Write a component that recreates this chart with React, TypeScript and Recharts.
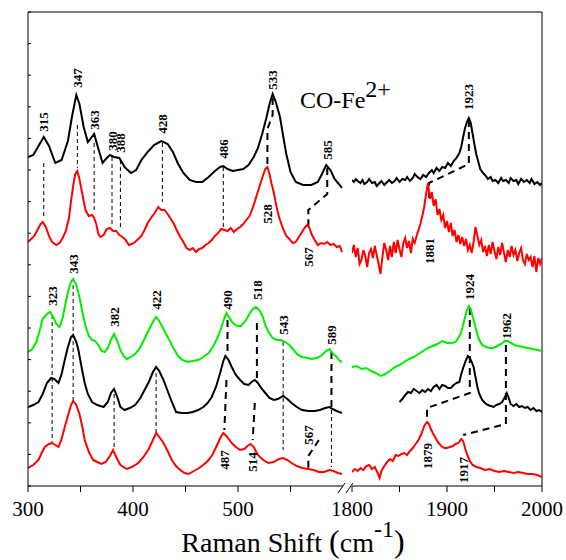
import React from 'react';
import { LineChart, Line, XAxis, YAxis, ReferenceDot } from 'recharts';

type Pt = [number, number];

// Raman spectra, [shift (cm-1), intensity (a.u., stacked offsets included)]
// 300–600 cm-1 window, top to bottom
const lowBlackTop: Pt[] = [
  [300, 329], [305, 331], [310, 340], [315, 349], [320, 340], [326, 323], [332, 326], [338, 345],
  [342, 370], [346, 391], [349, 382], [353, 359], [357, 344], [360, 348], [363, 352], [366, 341],
  [371, 323], [375, 328], [378, 331], [382, 329], [387, 328], [392, 319], [398, 313], [403, 316],
  [408, 326], [414, 334], [420, 341], [427, 345], [433, 342], [438, 334], [443, 322], [448, 313],
  [454, 306], [460, 304], [466, 304], [472, 309], [478, 315], [483, 319], [486, 320], [490, 317],
  [495, 315], [500, 316], [505, 317], [510, 321], [515, 329], [519, 338], [523, 352], [527, 368],
  [530, 382], [533, 392], [536, 384], [540, 369], [543, 350], [546, 332], [550, 314], [555, 304],
  [562, 301], [570, 301], [576, 304], [580, 312], [584, 321], [588, 316], [592, 307], [596, 302],
  [599, 298],
];

const lowRedTop: Pt[] = [
  [300, 244], [303, 247], [306, 250], [309, 256], [312, 262], [314, 264], [317, 259], [320, 250],
  [323, 244], [327, 241], [330, 243], [333, 248], [336, 255], [339, 268], [341, 285], [343, 300],
  [345, 312], [347, 315], [349, 307], [351, 296], [353, 285], [355, 275], [358, 270], [361, 271],
  [363, 268], [365, 262], [367, 252], [369, 249], [372, 251], [375, 257], [378, 258], [381, 255],
  [384, 255], [387, 251], [390, 249], [393, 246], [396, 241], [399, 242], [402, 244], [405, 247],
  [408, 250], [411, 256], [414, 263], [417, 268], [420, 272], [424, 279], [427, 276], [430, 276],
  [433, 272], [436, 267], [439, 262], [442, 255], [445, 249], [448, 244], [451, 238], [454, 236],
  [457, 238], [460, 234], [463, 237], [466, 238], [469, 241], [472, 243], [475, 246], [478, 250],
  [481, 253], [484, 257], [487, 256], [490, 255], [493, 258], [496, 254], [499, 257], [502, 259],
  [505, 262], [508, 266], [511, 270], [514, 278], [517, 288], [520, 298], [523, 308], [526, 317],
  [528, 319], [530, 312], [532, 302], [534, 294], [536, 283], [538, 273], [540, 266], [543, 257],
  [546, 250], [549, 247], [552, 243], [555, 244], [558, 249], [561, 254], [564, 259], [566, 261],
  [568, 258], [570, 252], [573, 246], [576, 241], [579, 243], [582, 242], [585, 244], [588, 241],
  [591, 242], [594, 239], [597, 240], [599, 234],
];

const lowGreen: Pt[] = [
  [300, 134], [304, 137], [308, 144], [311, 155], [314, 167], [318, 172], [321, 174], [324, 169],
  [327, 162], [330, 159], [333, 168], [336, 184], [339, 198], [341, 204], [343, 207], [346, 201],
  [349, 189], [352, 173], [355, 159], [358, 150], [361, 146], [364, 145], [367, 141], [370, 135],
  [373, 134], [376, 138], [379, 146], [382, 152], [385, 145], [388, 136], [391, 130], [394, 127],
  [398, 129], [402, 132], [406, 137], [410, 145], [414, 154], [417, 160], [420, 166], [422, 169],
  [425, 165], [428, 159], [431, 153], [435, 145], [439, 137], [443, 130], [447, 126], [452, 124],
  [457, 125], [462, 126], [467, 129], [472, 133], [476, 139], [480, 147], [484, 158], [487, 168],
  [489, 173], [492, 168], [495, 163], [499, 160], [503, 160], [507, 165], [511, 172], [514, 177],
  [517, 179], [520, 176], [523, 171], [526, 161], [529, 154], [533, 148], [537, 146], [541, 146],
  [545, 144], [549, 141], [553, 136], [557, 131], [561, 129], [566, 128], [570, 127], [575, 128],
  [580, 131], [584, 135], [587, 137], [590, 133], [594, 129], [597, 125], [599, 124],
];

const lowBlackLow: Pt[] = [
  [300, 79], [305, 81], [310, 84], [314, 92], [318, 103], [322, 108], [325, 107], [329, 103],
  [332, 112], [335, 126], [338, 139], [341, 149], [343, 151], [346, 144], [348, 136], [351, 119],
  [354, 103], [357, 92], [361, 84], [366, 81], [372, 79], [376, 84], [379, 93], [382, 97],
  [385, 89], [388, 79], [392, 76], [397, 78], [402, 81], [407, 88], [411, 96], [415, 104],
  [419, 114], [422, 119], [425, 115], [429, 106], [433, 95], [437, 84], [441, 74], [446, 73],
  [452, 73], [457, 74], [462, 76], [467, 79], [471, 83], [475, 89], [479, 99], [483, 113],
  [486, 125], [488, 130], [491, 126], [494, 119], [498, 111], [502, 106], [506, 102], [510, 101],
  [513, 104], [516, 106], [519, 103], [522, 98], [526, 93], [530, 88], [534, 86], [538, 87],
  [543, 90], [547, 87], [551, 83], [556, 79], [561, 76], [567, 75], [573, 75], [578, 76],
  [583, 78], [587, 79], [590, 77], [594, 75], [599, 73],
];

const lowRedLow: Pt[] = [
  [300, 18], [305, 21], [310, 26], [313, 33], [316, 39], [320, 42], [323, 43], [326, 41],
  [329, 39], [332, 47], [335, 59], [338, 70], [341, 81], [343, 85], [346, 81], [349, 72],
  [352, 58], [354, 46], [358, 34], [362, 26], [366, 24], [370, 22], [374, 24], [378, 30],
  [381, 36], [384, 29], [388, 21], [391, 19], [394, 17], [399, 19], [405, 23], [410, 29],
  [415, 37], [419, 46], [422, 53], [425, 49], [429, 43], [433, 35], [437, 26], [441, 20],
  [445, 16], [449, 13], [453, 12], [458, 15], [463, 18], [468, 22], [472, 26], [476, 32],
  [481, 43], [484, 50], [486, 53], [489, 50], [494, 43], [498, 39], [502, 36], [506, 37],
  [509, 40], [512, 42], [515, 39], [519, 31], [524, 26], [529, 23], [534, 24], [539, 27],
  [543, 28], [547, 26], [551, 23], [556, 20], [561, 18], [567, 17], [572, 16], [577, 14],
  [582, 14], [587, 16], [591, 15], [595, 13], [599, 12],
];

// 1800–2000 cm-1 window (CO stretching region), top to bottom
const highBlackTop: Pt[] = [
  [1800, 306], [1802, 304], [1804, 307], [1806, 305], [1809, 303], [1811, 306], [1813, 302],
  [1816, 304], [1818, 307], [1821, 303], [1824, 304], [1826, 300], [1829, 303], [1831, 305],
  [1834, 301], [1837, 304], [1839, 306], [1842, 303], [1845, 305], [1847, 308], [1850, 304],
  [1853, 307], [1856, 306], [1858, 309], [1861, 305], [1864, 308], [1866, 312], [1869, 309],
  [1872, 307], [1875, 311], [1878, 309], [1881, 313], [1884, 316], [1886, 313], [1889, 318],
  [1892, 315], [1895, 319], [1898, 318], [1901, 323], [1904, 320], [1907, 325], [1910, 328],
  [1913, 333], [1915, 339], [1917, 349], [1919, 358], [1921, 364], [1923, 368], [1925, 363],
  [1927, 352], [1929, 341], [1931, 331], [1933, 324], [1935, 317], [1938, 313], [1941, 310],
  [1943, 307], [1946, 309], [1948, 305], [1951, 306], [1954, 303], [1957, 308], [1959, 305],
  [1962, 306], [1965, 303], [1967, 308], [1970, 305], [1973, 306], [1975, 302], [1978, 307],
  [1981, 304], [1984, 306], [1987, 303], [1989, 307], [1992, 302], [1995, 304], [1998, 301],
  [2000, 303],
];

const highRedTop: Pt[] = [
  [1800, 233], [1802, 241], [1804, 229], [1806, 238], [1808, 222], [1810, 226], [1812, 236],
  [1814, 230], [1816, 219], [1818, 233], [1820, 237], [1822, 228], [1824, 240], [1826, 231],
  [1828, 222], [1830, 212], [1832, 229], [1834, 243], [1836, 236], [1838, 226], [1840, 240],
  [1842, 229], [1844, 244], [1846, 233], [1848, 246], [1850, 237], [1852, 229], [1854, 243],
  [1856, 248], [1858, 238], [1860, 245], [1862, 233], [1864, 247], [1866, 243], [1868, 250],
  [1870, 256], [1872, 262], [1874, 270], [1876, 279], [1878, 292], [1880, 303], [1882, 287],
  [1884, 294], [1886, 280], [1888, 287], [1890, 271], [1892, 277], [1894, 266], [1896, 271],
  [1898, 258], [1900, 265], [1902, 254], [1904, 263], [1906, 250], [1908, 256], [1910, 244],
  [1912, 251], [1914, 242], [1916, 249], [1918, 240], [1920, 247], [1922, 236], [1924, 241],
  [1926, 233], [1928, 244], [1930, 259], [1932, 250], [1934, 241], [1936, 246], [1938, 234],
  [1940, 240], [1942, 230], [1944, 241], [1946, 232], [1948, 244], [1950, 235], [1952, 227],
  [1954, 239], [1956, 231], [1958, 243], [1960, 233], [1962, 224], [1964, 236], [1966, 229],
  [1968, 240], [1970, 231], [1972, 236], [1974, 225], [1976, 233], [1978, 238], [1980, 226],
  [1982, 222], [1984, 232], [1986, 226], [1988, 229], [1990, 219], [1992, 230], [1994, 214],
  [1996, 228], [1998, 222], [2000, 228],
];

const highGreen: Pt[] = [
  [1800, 119], [1805, 120], [1810, 117], [1815, 118], [1820, 115], [1825, 113], [1830, 110],
  [1835, 112], [1840, 115], [1845, 119], [1850, 121], [1855, 124], [1860, 127], [1865, 129],
  [1870, 132], [1875, 135], [1880, 138], [1885, 140], [1890, 142], [1895, 145], [1900, 143],
  [1905, 143], [1909, 144], [1912, 148], [1915, 154], [1918, 165], [1921, 176], [1923, 180],
  [1925, 177], [1928, 166], [1931, 155], [1934, 146], [1937, 141], [1941, 139], [1945, 138],
  [1949, 138], [1953, 140], [1957, 142], [1961, 145], [1964, 145], [1967, 143], [1971, 141],
  [1975, 140], [1980, 139], [1985, 138], [1990, 137], [1995, 136], [2000, 135],
];

const highBlackLow: Pt[] = [
  [1850, 84], [1853, 87], [1856, 91], [1859, 94], [1862, 93], [1865, 97], [1868, 95], [1871, 93],
  [1874, 96], [1877, 94], [1880, 97], [1883, 95], [1886, 99], [1889, 101], [1892, 97], [1895, 101],
  [1898, 100], [1901, 98], [1904, 98], [1907, 101], [1910, 103], [1913, 104], [1915, 112],
  [1917, 118], [1920, 126], [1922, 130], [1924, 128], [1926, 124], [1928, 119], [1930, 109],
  [1932, 99], [1934, 92], [1937, 86], [1940, 83], [1943, 81], [1946, 80], [1949, 79], [1952, 81],
  [1955, 82], [1958, 84], [1961, 89], [1963, 93], [1965, 88], [1967, 82], [1970, 80], [1973, 82],
  [1976, 79], [1979, 80], [1982, 78], [1985, 79], [1988, 76], [1991, 78], [1994, 75], [1997, 76],
  [2000, 74],
];

const highRedLow: Pt[] = [
  [1800, 14], [1803, 17], [1806, 15], [1809, 18], [1812, 16], [1815, 20], [1818, 21], [1821, 17],
  [1824, 19], [1827, 13], [1829, 8], [1831, 15], [1834, 20], [1837, 24], [1840, 27], [1843, 25],
  [1846, 31], [1849, 30], [1852, 32], [1855, 33], [1858, 31], [1861, 35], [1864, 38], [1867, 42],
  [1870, 46], [1873, 52], [1876, 60], [1879, 64], [1881, 62], [1883, 57], [1885, 53], [1888, 48],
  [1891, 43], [1894, 40], [1897, 38], [1900, 38], [1903, 39], [1906, 40], [1909, 42], [1912, 43],
  [1915, 47], [1917, 45], [1919, 38], [1921, 32], [1924, 25], [1927, 21], [1931, 19], [1935, 18],
  [1940, 16], [1945, 17], [1950, 15], [1955, 14], [1960, 15], [1965, 14], [1970, 13], [1975, 14],
  [1980, 13], [1985, 12], [1990, 12], [1995, 11], [2000, 9],
];

// peak assignments: [shift, intensity where the rotated label sits]
const lowPeaks: Pt[] = [
  [315, 364], [347, 408], [363, 366], [380, 345], [388, 343], [428, 362], [486, 337], [533, 406],
  [585, 336], [528, 272], [567, 229],
  [343, 222], [323, 190], [382, 169], [422, 186], [490, 186], [518, 196], [543, 161], [589, 151],
  [487, 26], [514, 24], [567, 51],
];
const highPeaks: Pt[] = [[1923, 389], [1881, 235], [1924, 199], [1962, 160], [1879, 30], [1917, 16]];

// dashed guides linking corresponding bands between spectra
const lowThinGuides: Pt[][] = [
  [[315, 323], [315, 269]], [[347, 361], [347, 318]], [[363, 343], [363, 273]],
  [[380, 329], [380, 259]], [[388, 326], [388, 256]], [[428, 343], [428, 284]],
  [[486, 319], [486, 258]], [[323, 171], [323, 44]], [[343, 201], [343, 84]],
  [[382, 92], [382, 36]], [[422, 113], [422, 53]], [[543, 144], [543, 36]], [[589, 76], [589, 19]],
];
const lowThickGuides: Pt[][] = [
  [[533, 388], [533, 371], [528, 357], [528, 322]],
  [[585, 318], [585, 292], [567, 276], [567, 258]],
  [[490, 166], [490, 131]], [[489, 106], [487, 56]],
  [[518, 163], [518, 106]], [[516, 83], [514, 46]],
  [[589, 134], [589, 76]],
  [[577, 46], [567, 30], [567, 18]],
];
const highThickGuides: Pt[][] = [
  [[1923, 366], [1923, 322], [1881, 303], [1881, 288]],
  [[1924, 178], [1924, 93], [1879, 78], [1879, 64]],
  [[1962, 141], [1962, 62], [1917, 51]],
];

const lowTicks = [300, 350, 400, 450, 500, 550];
const highTicks = [1800, 1850, 1900, 1950, 2000];

const W = 566;
const H = 560;
const TOP = 12;
const BOTTOM = 486;
const LOW_LEFT = 28;
const LOW_RIGHT = 343;
const HIGH_LEFT = 352;
const HIGH_RIGHT = 542;
const Y_MAX = 474;
const Y_TICKS = Array.from({ length: 16 }, (_, i) => (i * Y_MAX) / 15);

const SERIF = "'Liberation Serif', 'Times New Roman', serif";
const BLACK = '#000000';
const RED = '#ff0000';
const GREEN = '#00ee00';

const toXY = (pts: Pt[]) => pts.map(([x, y]) => ({ x, y }));

const lowSeries = [
  { id: 'lowBlackTop', pts: lowBlackTop, color: BLACK },
  { id: 'lowRedTop', pts: lowRedTop, color: RED },
  { id: 'lowGreen', pts: lowGreen, color: GREEN },
  { id: 'lowBlackLow', pts: lowBlackLow, color: BLACK },
  { id: 'lowRedLow', pts: lowRedLow, color: RED },
];
const highSeries = [
  { id: 'highBlackTop', pts: highBlackTop, color: BLACK },
  { id: 'highRedTop', pts: highRedTop, color: RED },
  { id: 'highGreen', pts: highGreen, color: GREEN },
  { id: 'highBlackLow', pts: highBlackLow, color: BLACK },
  { id: 'highRedLow', pts: highRedLow, color: RED },
];

const tickStyle = { fontSize: 21, fill: BLACK, fontFamily: SERIF };
const peakLabel = (v: number) => ({
  value: String(v),
  angle: -90,
  position: 'center' as const,
  fontSize: 13,
  fontWeight: 'bold',
  fontFamily: SERIF,
  fill: BLACK,
});

const chartBox: React.CSSProperties = { position: 'absolute', left: 0, top: 0 };

const renderSeries = (series: typeof lowSeries) =>
  series.map((s) => (
    <Line
      key={s.id}
      data={toXY(s.pts)}
      dataKey="y"
      type="linear"
      stroke={s.color}
      strokeWidth={2}
      dot={false}
      activeDot={false}
      isAnimationActive={false}
    />
  ));

const renderGuides = (guides: Pt[][], kind: string, width: number, dash: string) =>
  guides.map((g, i) => (
    <Line
      key={`${kind}-${i}`}
      data={toXY(g)}
      dataKey="y"
      type="linear"
      stroke={BLACK}
      strokeWidth={width}
      strokeDasharray={dash}
      dot={false}
      activeDot={false}
      isAnimationActive={false}
    />
  ));

const renderPeaks = (peaks: Pt[], kind: string) =>
  peaks.map(([v, h], i) => (
    <ReferenceDot key={`${kind}-${i}`} x={v} y={h} r={0} fill="none" stroke="none" label={peakLabel(v)} />
  ));

// frame (top, left with inward ticks, right), axis-break marks, sample tag and axis title
const Decorations = () => (
  <g>
    <line x1={LOW_LEFT} y1={TOP} x2={HIGH_RIGHT} y2={TOP} stroke={BLACK} strokeWidth={1} />
    <line x1={LOW_LEFT} y1={TOP} x2={LOW_LEFT} y2={BOTTOM} stroke={BLACK} strokeWidth={1} />
    <line x1={HIGH_RIGHT} y1={TOP} x2={HIGH_RIGHT} y2={BOTTOM} stroke={BLACK} strokeWidth={1} />
    {Y_TICKS.map((t) => {
      const y = BOTTOM - ((BOTTOM - TOP) * t) / Y_MAX;
      return <line key={t} x1={LOW_LEFT} y1={y} x2={LOW_LEFT + 3} y2={y} stroke={BLACK} strokeWidth={1} />;
    })}
    <line x1={338} y1={BOTTOM + 7} x2={345} y2={BOTTOM - 3} stroke={BLACK} strokeWidth={1} />
    <line x1={346} y1={BOTTOM + 7} x2={353} y2={BOTTOM - 3} stroke={BLACK} strokeWidth={1} />
    <text x={300} y={108} fontSize={24} fontFamily={SERIF} fill={BLACK}>
      CO-Fe<tspan dy={-11}>2+</tspan>
    </text>
    <text x={(LOW_LEFT + HIGH_RIGHT) / 2 + 8} y={552} textAnchor="middle" fontSize={28} fontFamily={SERIF} fill={BLACK}>
      Raman Shift <tspan fontSize={32}>(</tspan>cm
      <tspan fontSize={24} dy={-15}>-1</tspan>
      <tspan fontSize={32} dy={15}>)</tspan>
    </text>
  </g>
);

export default function App() {
  return (
    <div style={{ position: 'absolute', left: 0, top: 0, width: W, height: H, background: '#fff' }}>
      <div style={chartBox}>
        <LineChart width={W} height={H} margin={{ top: TOP, left: LOW_LEFT, right: W - LOW_RIGHT, bottom: H - BOTTOM - 30 }}>
          <XAxis
            type="number"
            dataKey="x"
            domain={[300, 600]}
            allowDataOverflow
            ticks={lowTicks}
            interval={0}
            height={30}
            tickSize={6}
            tickMargin={9}
            tick={tickStyle}
            tickFormatter={(v: number) => (v % 100 === 0 ? String(v) : '')}
            stroke={BLACK}
          />
          <YAxis type="number" domain={[0, Y_MAX]} allowDataOverflow hide />
          {renderGuides(lowThinGuides, 'thin', 1, '4 3')}
          {renderGuides(lowThickGuides, 'thick', 2, '7 5')}
          {renderSeries(lowSeries)}
          {renderPeaks(lowPeaks, 'lp')}
        </LineChart>
      </div>
      <div style={chartBox}>
        <LineChart width={W} height={H} margin={{ top: TOP, left: HIGH_LEFT, right: W - HIGH_RIGHT, bottom: H - BOTTOM - 30 }}>
          <XAxis
            type="number"
            dataKey="x"
            domain={[1800, 2000]}
            allowDataOverflow
            ticks={highTicks}
            interval={0}
            height={30}
            tickSize={6}
            tickMargin={9}
            tick={tickStyle}
            tickFormatter={(v: number) => (v % 100 === 0 ? String(v) : '')}
            stroke={BLACK}
          />
          <YAxis type="number" domain={[0, Y_MAX]} allowDataOverflow hide />
          {renderGuides(highThickGuides, 'thick', 2, '7 5')}
          {renderSeries(highSeries)}
          {renderPeaks(highPeaks, 'hp')}
          <Decorations />
        </LineChart>
      </div>
    </div>
  );
}
